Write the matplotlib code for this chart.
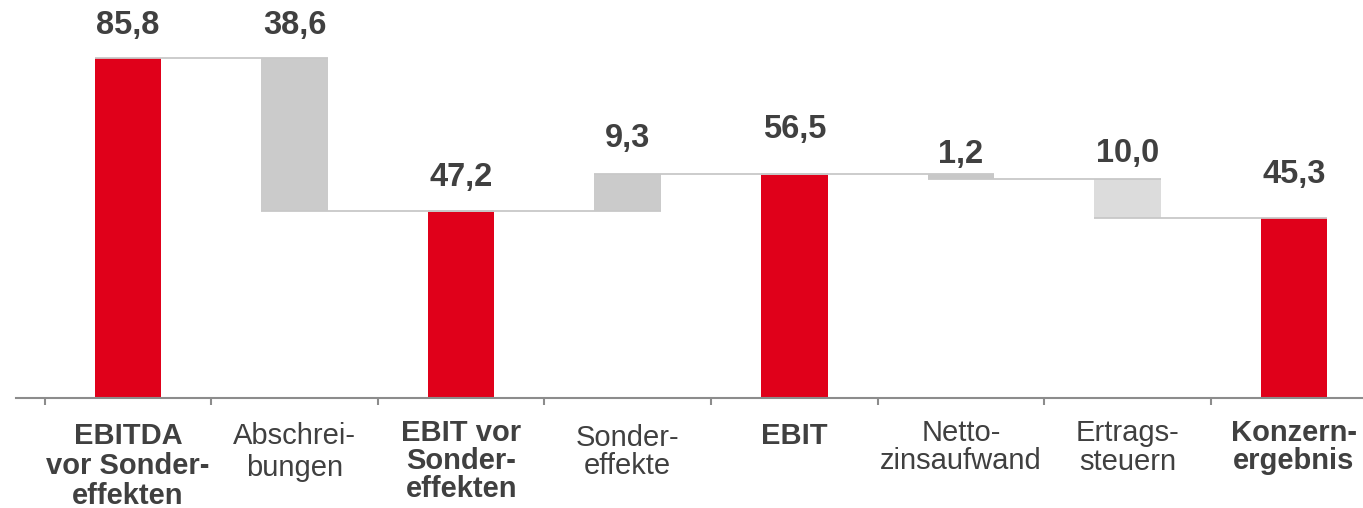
import matplotlib
matplotlib.use("Agg")
import matplotlib.pyplot as plt
import numpy as np

# ---- data ----
categories = ["EBITDA\nvor Sonder-\neffekten", "Abschrei-\nbungen", "EBIT vor\nSonder-\neffekten",
              "Sonder-\neffekte", "EBIT", "Netto-\nzinsaufwand", "Ertrags-\nsteuern", "Konzern-\nergebnis"]
values = [85.8, -38.6, 47.2, 9.3, 56.5, -1.2, -10.0, 45.3]
is_total = [True, False, True, False, True, False, False, True]
value_labels = ["85,8", "38,6", "47,2", "9,3", "56,5", "1,2", "10,0", "45,3"]

# ---- style ----
RED = "#E0001A"
bar_colors = [RED, "#CBCBCB", RED, "#CBCBCB", RED, "#C8C8C8", "#DCDCDC", RED]
label_offsets_px = [32, 32, 33, 36, 45, 20, 25, 44]      # value label centre above bar top
cat_top_px = [24, 24, 21, 26, 24, 21, 21, 21]            # category label top below axis
cat_linespacing = [1.08, 1.2, 1.0, 1.0, 1.0, 1.0, 1.03, 0.98]
TXT = "#404040"
FONT = "Liberation Sans"

W, H, DPI = 1363, 508, 100
fig = plt.figure(figsize=(W / DPI, H / DPI), dpi=DPI)
ax = fig.add_axes([16 / W, 110 / H, (W - 16) / W, 398 / H])
px_per_cat = 166.57
ax.set_xlim((16 - 128) / px_per_cat, (W - 128) / px_per_cat)
ax.set_ylim(0, 398 / 3.963)

bw = 0.4
bottoms, tops, level = [], [], []
running = 0.0
for v, tot in zip(values, is_total):
    if tot:
        b, t = 0.0, v
        running = v
    else:
        new = running + v
        b, t = min(running, new), max(running, new)
        running = new
    bottoms.append(b)
    tops.append(t)
    level.append(running)

x = np.arange(len(values))
ax.bar(x, np.array(tops) - np.array(bottoms), bottom=bottoms, width=bw,
       color=bar_colors, zorder=2, linewidth=0)

# connectors
for i in range(len(values) - 1):
    lv = level[i]
    ax.plot([x[i] - bw / 2, x[i + 1] + bw / 2], [lv, lv], color="#C8C8C8",
            lw=1.3, zorder=3, solid_capstyle="butt")

# value labels
for i in range(len(values)):
    ax.annotate(value_labels[i], (x[i], tops[i]), xytext=(0, label_offsets_px[i] * 0.72),
                textcoords="offset points", ha="center", va="center",
                fontsize=23.5, fontweight="bold", color=TXT, family=FONT)

# category labels
for i, c in enumerate(categories):
    ax.annotate(c, (x[i], 0), xytext=(0, -cat_top_px[i] * 0.72), textcoords="offset points",
                ha="center", va="top", fontsize=21, color=TXT, family=FONT,
                fontweight="bold" if is_total[i] else "normal",
                linespacing=cat_linespacing[i], annotation_clip=False)

# axes styling
for s in ["top", "right", "left"]:
    ax.spines[s].set_visible(False)
ax.spines["bottom"].set_color("#8C8C8C")
ax.spines["bottom"].set_linewidth(1.5)
ax.set_yticks([])
ax.set_xticks(np.arange(len(values)) - 0.5)
ax.set_xticklabels([])
ax.tick_params(axis="x", direction="out", length=5, width=1.5, color="#8C8C8C")

fig.savefig("out.png", dpi=DPI)
